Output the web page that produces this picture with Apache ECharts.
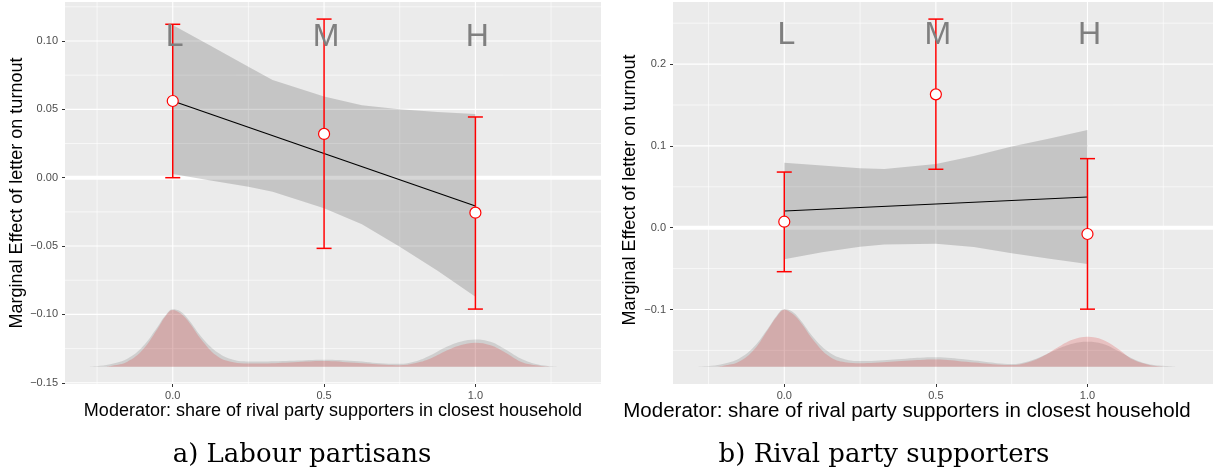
<!DOCTYPE html>
<html><head><meta charset="utf-8">
<script src="https://cdn.jsdelivr.net/npm/echarts@6/dist/echarts.min.js"></script>
<style>html,body{margin:0;padding:0;background:#fff}#c{width:1215px;height:474px}</style>
</head><body><div id="c"></div>
<script>
// ---------- shared ----------
const letters = ["L", "M", "H"];
const moderatorX = [0, 0.5, 1];
const xTicks = [0, 0.5, 1];
const xTickLabels = ["0.0", "0.5", "1.0"];
const xMinor = [-0.25, 0.25, 0.75, 1.25];
const xTitle = "Moderator: share of rival party supporters in closest household";
const yTitle = "Marginal Effect of letter on turnout";
const captions = ["a) Labour partisans", "b) Rival party supporters"];

// ---------- panel a: Labour partisans ----------
const aYTicks = [-0.15, -0.10, -0.05, 0, 0.05, 0.10];
const aYTickLabels = ["\u22120.15", "\u22120.10", "\u22120.05", "0.00", "0.05", "0.10"];
const aYMinor = [-0.125, -0.075, -0.025, 0.025, 0.075, 0.125];
const aEst = [0.0561, 0.032, -0.0256];
const aLow = [0.000, -0.0517, -0.0961];
const aHigh = [0.1122, 0.116, 0.0444];
const aLineY = [0.0561, -0.0207];
const aLetterY = 0.1029;
const aBandX = [0, 0.125, 0.25, 0.33, 0.5, 0.625, 0.75, 0.875, 1.0];
const aBandUpper = [0.1117, 0.0965, 0.0812, 0.0715, 0.0593, 0.053, 0.050, 0.048, 0.0466];
const aBandLower = [0.0027, -0.002, -0.0066, -0.0102, -0.0224, -0.034, -0.0505, -0.068, -0.087];
const aDensBase = -0.1383;
const aGrayX = [-0.28, -0.24, -0.2, -0.15, -0.1, -0.05, -0.025, 0, 0.025, 0.05, 0.1, 0.15, 0.2, 0.25, 0.3, 0.4, 0.5, 0.6, 0.7, 0.75, 0.8, 0.85, 0.9, 0.95, 1.0, 1.05, 1.1, 1.15, 1.2, 1.24, 1.28];
const aGrayY = [-0.1383, -0.1376, -0.1361, -0.1324, -0.1237, -0.1090, -0.1010, -0.0962, -0.0977, -0.1032, -0.1178, -0.1281, -0.1332, -0.1344, -0.1344, -0.1339, -0.1332, -0.1341, -0.1359, -0.1361, -0.1344, -0.1300, -0.1242, -0.1200, -0.1183, -0.1200, -0.1256, -0.1322, -0.1363, -0.1377, -0.1383];
const aRedX = [-0.22, -0.2, -0.15, -0.1, -0.05, -0.025, 0, 0.025, 0.05, 0.1, 0.15, 0.2, 0.25, 0.3, 0.4, 0.5, 0.6, 0.7, 0.75, 0.8, 0.85, 0.9, 0.95, 1.0, 1.05, 1.1, 1.15, 1.2, 1.25];
const aRedY = [-0.1383, -0.1376, -0.1346, -0.1261, -0.1105, -0.1017, -0.0968, -0.0992, -0.1047, -0.1200, -0.1310, -0.1350, -0.1359, -0.1359, -0.1350, -0.1341, -0.1354, -0.1368, -0.1371, -0.1357, -0.1324, -0.1270, -0.1226, -0.1207, -0.1226, -0.1281, -0.1346, -0.1372, -0.1383];

// ---------- panel b: Rival party supporters ----------
const bYTicks = [-0.1, 0, 0.1, 0.2];
const bYTickLabels = ["\u22120.1", "0.0", "0.1", "0.2"];
const bYMinor = [-0.15, -0.05, 0.05, 0.15, 0.25];
const bEst = [0.0073, 0.163, -0.0077];
const bLow = [-0.0538, 0.0714, -0.0996];
const bHigh = [0.068, 0.255, 0.0844];
const bLineY = [0.0204, 0.0375];
const bLetterY = 0.2352;
const bBandX = [0, 0.125, 0.25, 0.33, 0.5, 0.625, 0.75, 0.875, 1.0];
const bBandUpper = [0.0794, 0.076, 0.0726, 0.0718, 0.0779, 0.0875, 0.0991, 0.109, 0.1194];
const bBandLower = [-0.0387, -0.030, -0.0232, -0.0205, -0.0196, -0.0235, -0.0313, -0.038, -0.0444];
const bDensBase = -0.1699;
const bGrayX = [-0.29, -0.24, -0.2, -0.15, -0.1, -0.05, -0.025, 0, 0.025, 0.05, 0.1, 0.15, 0.2, 0.25, 0.3, 0.4, 0.5, 0.6, 0.7, 0.75, 0.8, 0.85, 0.9, 0.95, 1.0, 1.05, 1.1, 1.15, 1.2, 1.25, 1.29];
const bGrayY = [-0.1699, -0.1687, -0.1662, -0.1601, -0.1455, -0.1210, -0.1076, -0.0994, -0.1021, -0.1112, -0.1357, -0.1528, -0.1607, -0.1629, -0.1626, -0.1601, -0.1585, -0.1613, -0.1656, -0.1666, -0.1638, -0.1571, -0.1485, -0.1418, -0.1393, -0.1418, -0.1503, -0.1601, -0.1666, -0.1689, -0.1699];
const bRedX = [-0.22, -0.2, -0.15, -0.1, -0.05, -0.025, 0, 0.025, 0.05, 0.1, 0.15, 0.2, 0.25, 0.3, 0.4, 0.5, 0.6, 0.7, 0.75, 0.8, 0.85, 0.9, 0.95, 1.0, 1.05, 1.1, 1.15, 1.2, 1.25];
const bRedY = [-0.1699, -0.1687, -0.1638, -0.1491, -0.1222, -0.1088, -0.1002, -0.1045, -0.1137, -0.1393, -0.1577, -0.1644, -0.1656, -0.1650, -0.1626, -0.1610, -0.1638, -0.1672, -0.1678, -0.1650, -0.1577, -0.1467, -0.1369, -0.1332, -0.1369, -0.1479, -0.1613, -0.1675, -0.1699];

// ---------- build ----------
const FONT = "'Liberation Sans', Arial, sans-serif";
const panels = [
  {grid: {left: 65, top: 2, width: 536, height: 382}, xMin: -0.356, xMax: 1.415, yMin: -0.1509, yMax: 0.1285,
   yTicks: aYTicks, yLabels: aYTickLabels, yMinor: aYMinor, est: aEst, low: aLow, high: aHigh, lineY: aLineY,
   letterY: aLetterY, bandX: aBandX, up: aBandUpper, lo: aBandLower, base: aDensBase,
   gX: aGrayX, gY: aGrayY, rX: aRedX, rY: aRedY},
  {grid: {left: 673, top: 2, width: 540, height: 382}, xMin: -0.367, xMax: 1.414, yMin: -0.1911, yMax: 0.2759,
   yTicks: bYTicks, yLabels: bYTickLabels, yMinor: bYMinor, est: bEst, low: bLow, high: bHigh, lineY: bLineY,
   letterY: bLetterY, bandX: bBandX, up: bBandUpper, lo: bBandLower, base: bDensBase,
   gX: bGrayX, gY: bGrayY, rX: bRedX, rY: bRedY}
];

function labelOf(ticks, labels) {
  return v => { for (let i = 0; i < ticks.length; i++) if (Math.abs(ticks[i] - v) < 1e-9) return labels[i]; return ''; };
}
const zip = (xs, ys) => xs.map((x, i) => [x, ys[i]]);

const grids = [], xAxes = [], yAxes = [], series = [];
panels.forEach((p, i) => {
  grids.push(Object.assign({show: true, backgroundColor: '#ebebeb', borderWidth: 0}, p.grid));
  xAxes.push({type: 'value', gridIndex: i, min: p.xMin, max: p.xMax,
    axisLine: {show: false, onZero: false}, splitLine: {show: false},
    axisTick: {show: true, length: 3, customValues: xTicks, lineStyle: {color: '#333', width: 1}},
    axisLabel: {customValues: xTicks, formatter: labelOf(xTicks, xTickLabels), color: '#4d4d4d', fontSize: 11, margin: 6, fontFamily: FONT}});
  yAxes.push({type: 'value', gridIndex: i, min: p.yMin, max: p.yMax,
    axisLine: {show: false, onZero: false}, splitLine: {show: false},
    axisTick: {show: true, length: 3, customValues: p.yTicks, lineStyle: {color: '#333', width: 1}},
    axisLabel: {customValues: p.yTicks, formatter: labelOf(p.yTicks, p.yLabels), color: '#4d4d4d', fontSize: 11, margin: 7, fontFamily: FONT}});

  // grid lines
  series.push({type: 'custom', xAxisIndex: i, yAxisIndex: i, silent: true, z: 1, data: [[0, 0]],
    renderItem: (params, api) => {
      const cs = params.coordSys, ch = [];
      const hl = (v, w) => { const y = api.coord([0, v])[1]; ch.push({type: 'line', shape: {x1: cs.x, y1: y, x2: cs.x + cs.width, y2: y}, style: {stroke: '#ffffff', lineWidth: w}}); };
      const vl = (v, w) => { const x = api.coord([v, 0])[0]; ch.push({type: 'line', shape: {x1: x, y1: cs.y, x2: x, y2: cs.y + cs.height}, style: {stroke: '#ffffff', lineWidth: w}}); };
      p.yMinor.forEach(v => hl(v, 0.6));
      xMinor.forEach(v => vl(v, 0.6));
      p.yTicks.forEach(v => hl(v, 1.1));
      xTicks.forEach(v => vl(v, 1.1));
      hl(0, 4);
      return {type: 'group', children: ch};
    }});

  // densities
  series.push({type: 'line', xAxisIndex: i, yAxisIndex: i, silent: true, z: 2, data: zip(p.gX, p.gY), smooth: 0.4,
    symbol: 'none', lineStyle: {width: 0, color: 'rgba(0,0,0,0)'}, areaStyle: {color: 'rgba(0,0,0,0.17)', origin: p.base}});
  series.push({type: 'line', xAxisIndex: i, yAxisIndex: i, silent: true, z: 2, data: zip(p.rX, p.rY), smooth: 0.4,
    symbol: 'none', lineStyle: {width: 0, color: 'rgba(0,0,0,0)'}, areaStyle: {color: 'rgba(222,62,62,0.35)', origin: p.base}});

  // confidence band
  series.push({type: 'custom', xAxisIndex: i, yAxisIndex: i, silent: true, z: 3, data: [[0, 0]],
    renderItem: (params, api) => {
      const pts = [];
      p.bandX.forEach((x, k) => pts.push(api.coord([x, p.up[k]])));
      for (let k = p.bandX.length - 1; k >= 0; k--) pts.push(api.coord([p.bandX[k], p.lo[k]]));
      return {type: 'polygon', shape: {points: pts}, style: {fill: 'rgba(0,0,0,0.16)'}};
    }});

  // fitted line
  series.push({type: 'line', xAxisIndex: i, yAxisIndex: i, silent: true, z: 4, data: [[0, p.lineY[0]], [1, p.lineY[1]]],
    symbol: 'none', lineStyle: {color: '#000', width: 1.2}});

  // error bars
  series.push({type: 'custom', xAxisIndex: i, yAxisIndex: i, silent: true, z: 5,
    data: moderatorX.map((x, k) => [x, p.low[k], p.high[k]]), encode: {x: 0, y: [1, 2]},
    renderItem: (params, api) => {
      const x = api.value(0), lo = api.coord([x, api.value(1)]), hi = api.coord([x, api.value(2)]);
      const hw = 7.5, st = {stroke: '#ff0000', lineWidth: 1.5};
      return {type: 'group', children: [
        {type: 'line', shape: {x1: lo[0], y1: lo[1], x2: hi[0], y2: hi[1]}, style: st},
        {type: 'line', shape: {x1: lo[0] - hw, y1: lo[1], x2: lo[0] + hw, y2: lo[1]}, style: st},
        {type: 'line', shape: {x1: hi[0] - hw, y1: hi[1], x2: hi[0] + hw, y2: hi[1]}, style: st}
      ]};
    }});

  // points
  series.push({type: 'scatter', xAxisIndex: i, yAxisIndex: i, silent: true, z: 6, data: zip(moderatorX, p.est),
    symbol: 'circle', symbolSize: 11, itemStyle: {color: '#ffffff', borderColor: '#ff0000', borderWidth: 1.2, opacity: 1}});

  // letters
  series.push({type: 'custom', xAxisIndex: i, yAxisIndex: i, silent: true, z: 7,
    data: moderatorX.map((x, k) => [x, p.letterY, k]),
    renderItem: (params, api) => {
      const c = api.coord([api.value(0), api.value(1)]);
      return {type: 'text', x: c[0] + 2, y: c[1], style: {text: letters[api.value(2)], fontSize: 32, fontFamily: FONT, fill: '#7f7f7f', align: 'center', verticalAlign: 'middle'}};
    }});
});

const graphic = [
  {type: 'text', x: 17, y: 193, rotation: Math.PI / 2, style: {text: yTitle, fontSize: 18, fontFamily: FONT, fill: '#000', align: 'center', verticalAlign: 'middle'}},
  {type: 'text', x: 630, y: 190, rotation: Math.PI / 2, style: {text: yTitle, fontSize: 18, fontFamily: FONT, fill: '#000', align: 'center', verticalAlign: 'middle'}},
  {type: 'text', x: 333, y: 411, style: {text: xTitle, fontSize: 18, fontFamily: FONT, fill: '#000', align: 'center', verticalAlign: 'middle'}},
  {type: 'text', x: 907, y: 411, style: {text: xTitle, fontSize: 20.5, fontFamily: FONT, fill: '#000', align: 'center', verticalAlign: 'middle'}},
  {type: 'text', x: 302, y: 455, style: {text: captions[0], fontSize: 26, fontFamily: "'DejaVu Serif', serif", fill: '#000', align: 'center', verticalAlign: 'middle'}},
  {type: 'text', x: 884, y: 455, style: {text: captions[1], fontSize: 26, fontFamily: "'DejaVu Serif', serif", fill: '#000', align: 'center', verticalAlign: 'middle'}}
];

const chart = echarts.init(document.getElementById('c'), null, {renderer: 'canvas'});
chart.setOption({animation: false, backgroundColor: '#ffffff', grid: grids, xAxis: xAxes, yAxis: yAxes, series: series, graphic: graphic});
</script></body></html>
